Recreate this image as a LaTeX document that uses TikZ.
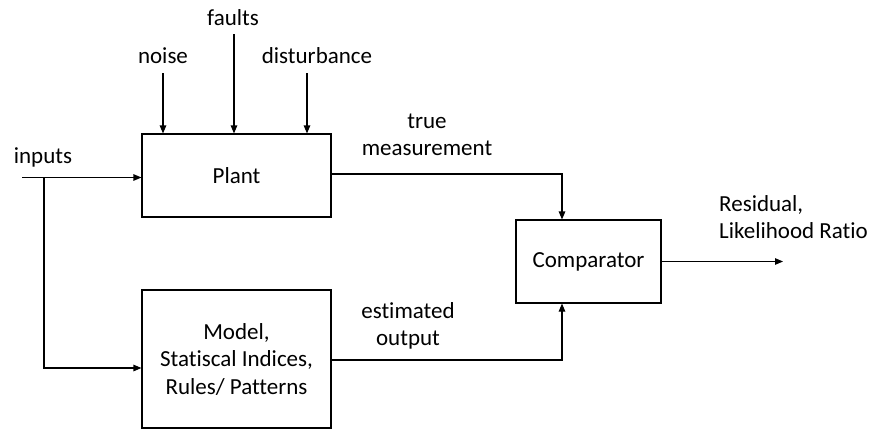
\documentclass[tikz,border=0pt]{standalone}
\usepackage{fontspec}
\setmainfont{Carlito}[Ligatures={NoCommon}]
\usetikzlibrary{arrows.meta,calc}
\begin{document}
\begin{tikzpicture}[x=1pt,y=-1pt,
  font=\fontsize{23}{27.5}\selectfont,
  block/.style={draw, line width=1.1pt, inner sep=0pt, align=center},
  lbl/.style={inner sep=0pt, align=center},
  wire/.style={line width=1.1pt},
  conn/.style={wire, -{Triangle[length=8pt,width=6.5pt]}}]
\useasboundingbox (0,0) rectangle (869,429);

% blocks
\node[block, minimum width=189pt, minimum height=83pt] (plant) at (236.5,175.5) {Plant};
\node[block, minimum width=189pt, minimum height=138pt] (model) at (236.5,359)
  {Model,\\Statiscal Indices,\\Rules/ Patterns};
\node[block, minimum width=145pt, minimum height=83pt] (comp) at (588.5,261.5) {Comparator};

% labels
\node[lbl, anchor=base] (faults) at (233,25) {faults};
\node[lbl, anchor=base] (noise) at (163,63) {noise};
\node[lbl, anchor=base] (dist) at (317,63) {disturbance};
\node[lbl, anchor=base] (inputs) at (43,163) {inputs};
\node[lbl] (truem) at (427,135) {true\\measurement};
\node[lbl] (estout) at (408,326) {estimated\\output};
\node[lbl, align=left, anchor=west] (resid) at (719,217) {Residual,\\Likelihood Ratio};

% free ends of connectors
\coordinate (noiseTop) at (163,73);
\coordinate (faultsTop) at (234,34);
\coordinate (distTop) at (307,73);
\coordinate (in) at (22,177.5);
\coordinate (split) at (44,177.5);
\coordinate (out) at (783,261.5);

% disturbances into the plant
\draw[conn] (noiseTop) -- (noiseTop |- plant.north);
\draw[conn] (faultsTop) -- (faultsTop |- plant.north);
\draw[conn] (distTop) -- (distTop |- plant.north);

% inputs to plant and model
\draw[conn] (in) -- (in -| plant.west);
\draw[conn] (split) |- ($(model.west)+(0,9)$);

% outputs to the comparator
\draw[conn] ($(plant.east)+(0,-1.5)$) -| ($(comp.north)+(-26.5,0)$);
\draw[conn] ($(model.east)+(0,1)$) -| ($(comp.south)+(-26.5,0)$);
\draw[conn] (comp.east) -- (out);
\end{tikzpicture}
\end{document}
